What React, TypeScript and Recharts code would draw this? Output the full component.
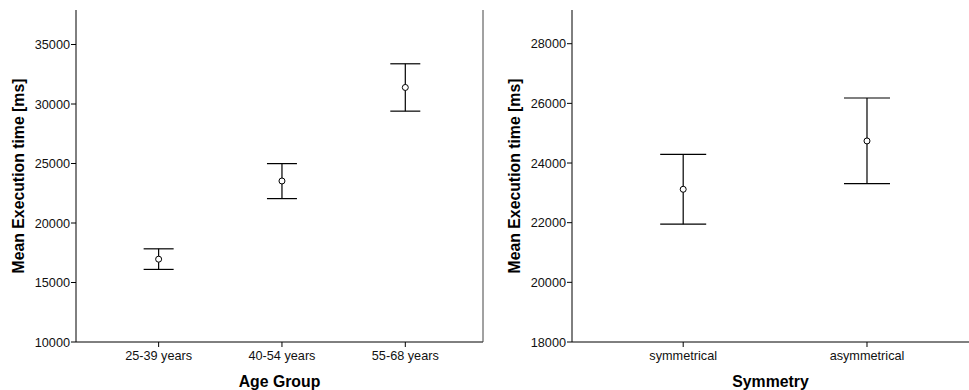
import { ComposedChart, Scatter, ErrorBar, XAxis, YAxis } from "recharts";

const ageGroups = ["25-39 years", "40-54 years", "55-68 years"];
const ageMeans = [16960, 23530, 31390];
const ageLower = [16100, 22050, 29400];
const ageUpper = [17830, 24990, 33380];
const ageTicks = [10000, 15000, 20000, 25000, 30000, 35000];

const symmetryGroups = ["symmetrical", "asymmetrical"];
const symMeans = [23120, 24740];
const symLower = [21950, 23310];
const symUpper = [24290, 26180];
const symTicks = [18000, 20000, 22000, 24000, 26000, 28000];

const FONT = "'Liberation Sans', Arial, sans-serif";

function buildRows(means: number[], lower: number[], upper: number[]) {
  return means.map((m, i) => ({
    pos: i + 1,
    mean: m,
    err: [m - lower[i], upper[i] - m],
  }));
}

const Dot = (props: any) => (
  <circle cx={props.cx} cy={props.cy} r={3} fill="#fff" stroke="#000" strokeWidth={1} />
);

interface PanelProps {
  left: number;
  width: number;
  rightMargin: number;
  rightBorder: boolean;
  groups: string[];
  rows: { pos: number; mean: number; err: number[] }[];
  xDomain: [number, number];
  yDomain: [number, number];
  yTicks: number[];
  yAxisWidth: number;
  yLabelX: number;
  xLabel: string;
  capWidth: number;
}

function Panel(p: PanelProps) {
  const tickStyle = { fontSize: 12.7, fill: "#111", fontFamily: FONT };
  const labelStyle = { fontSize: 15.8, fontWeight: "bold", fontFamily: FONT, fill: "#000" };
  const yLabel = (props: any) => {
    const vb = props.viewBox;
    const cy = vb.y + vb.height / 2;
    return (
      <text
        x={p.yLabelX}
        y={cy}
        transform={`rotate(-90, ${p.yLabelX}, ${cy})`}
        textAnchor="middle"
        dominantBaseline="central"
        style={labelStyle}
      >
        Mean Execution time [ms]
      </text>
    );
  };
  const xLabel = (props: any) => {
    const vb = props.viewBox;
    return (
      <text
        x={vb.x + vb.width / 2}
        y={vb.y + 39}
        textAnchor="middle"
        dominantBaseline="central"
        style={labelStyle}
      >
        {p.xLabel}
      </text>
    );
  };
  return (
    <div style={{ position: "absolute", left: p.left, top: 0, width: p.width, height: 390 }}>
      <ComposedChart
        width={p.width}
        height={390}
        data={p.rows}
        margin={{ top: 10, right: p.rightMargin, bottom: 0, left: 0 }}
      >
        <XAxis
          xAxisId="b"
          dataKey="pos"
          type="number"
          domain={p.xDomain}
          ticks={p.groups.map((_, i) => i + 1)}
          tickFormatter={(v: number) => p.groups[v - 1] ?? ""}
          allowDataOverflow
          height={48}
          tickSize={5}
          tickMargin={4}
          tick={tickStyle}
          stroke="#000"
          label={xLabel}
        />
        <XAxis
          xAxisId="t"
          orientation="top"
          dataKey="pos"
          type="number"
          domain={p.xDomain}
          allowDataOverflow
          height={0}
          tick={false}
          tickLine={false}
          stroke="#444"
        />
        <YAxis
          yAxisId="l"
          type="number"
          domain={p.yDomain}
          ticks={p.yTicks}
          allowDataOverflow
          width={p.yAxisWidth}
          tickSize={5}
          tickMargin={1}
          tick={tickStyle}
          stroke="#000"
          label={yLabel}
        />
        {p.rightBorder && (
          <YAxis
            yAxisId="r"
            orientation="right"
            type="number"
            domain={p.yDomain}
            allowDataOverflow
            width={1}
            tick={false}
            tickLine={false}
            stroke="#444"
          />
        )}
        <Scatter
          xAxisId="b"
          yAxisId="l"
          dataKey="mean"
          shape={Dot}
          isAnimationActive={false}
        >
          <ErrorBar
            dataKey="err"
            direction="y"
            width={p.capWidth}
            stroke="#000"
            strokeWidth={1.2}
            isAnimationActive={false}
          />
        </Scatter>
      </ComposedChart>
    </div>
  );
}

export default function App() {
  return (
    <div
      style={{
        position: "absolute",
        left: 0,
        top: 0,
        width: 969,
        height: 390,
        background: "#fff",
        overflow: "hidden",
      }}
    >
      <Panel
        left={0}
        width={490}
        rightMargin={6}
        rightBorder={true}
        groups={ageGroups}
        rows={buildRows(ageMeans, ageLower, ageUpper)}
        xDomain={[0.33, 3.63]}
        yDomain={[10000, 37900]}
        yTicks={ageTicks}
        yAxisWidth={76}
        yLabelX={18}
        xLabel="Age Group"
        capWidth={15}
      />
      <Panel
        left={490}
        width={479}
        rightMargin={0}
        rightBorder={false}
        groups={symmetryGroups}
        rows={buildRows(symMeans, symLower, symUpper)}
        xDomain={[0.395, 2.555]}
        yDomain={[18000, 29130]}
        yTicks={symTicks}
        yAxisWidth={82}
        yLabelX={24}
        xLabel="Symmetry"
        capWidth={23}
      />
    </div>
  );
}
